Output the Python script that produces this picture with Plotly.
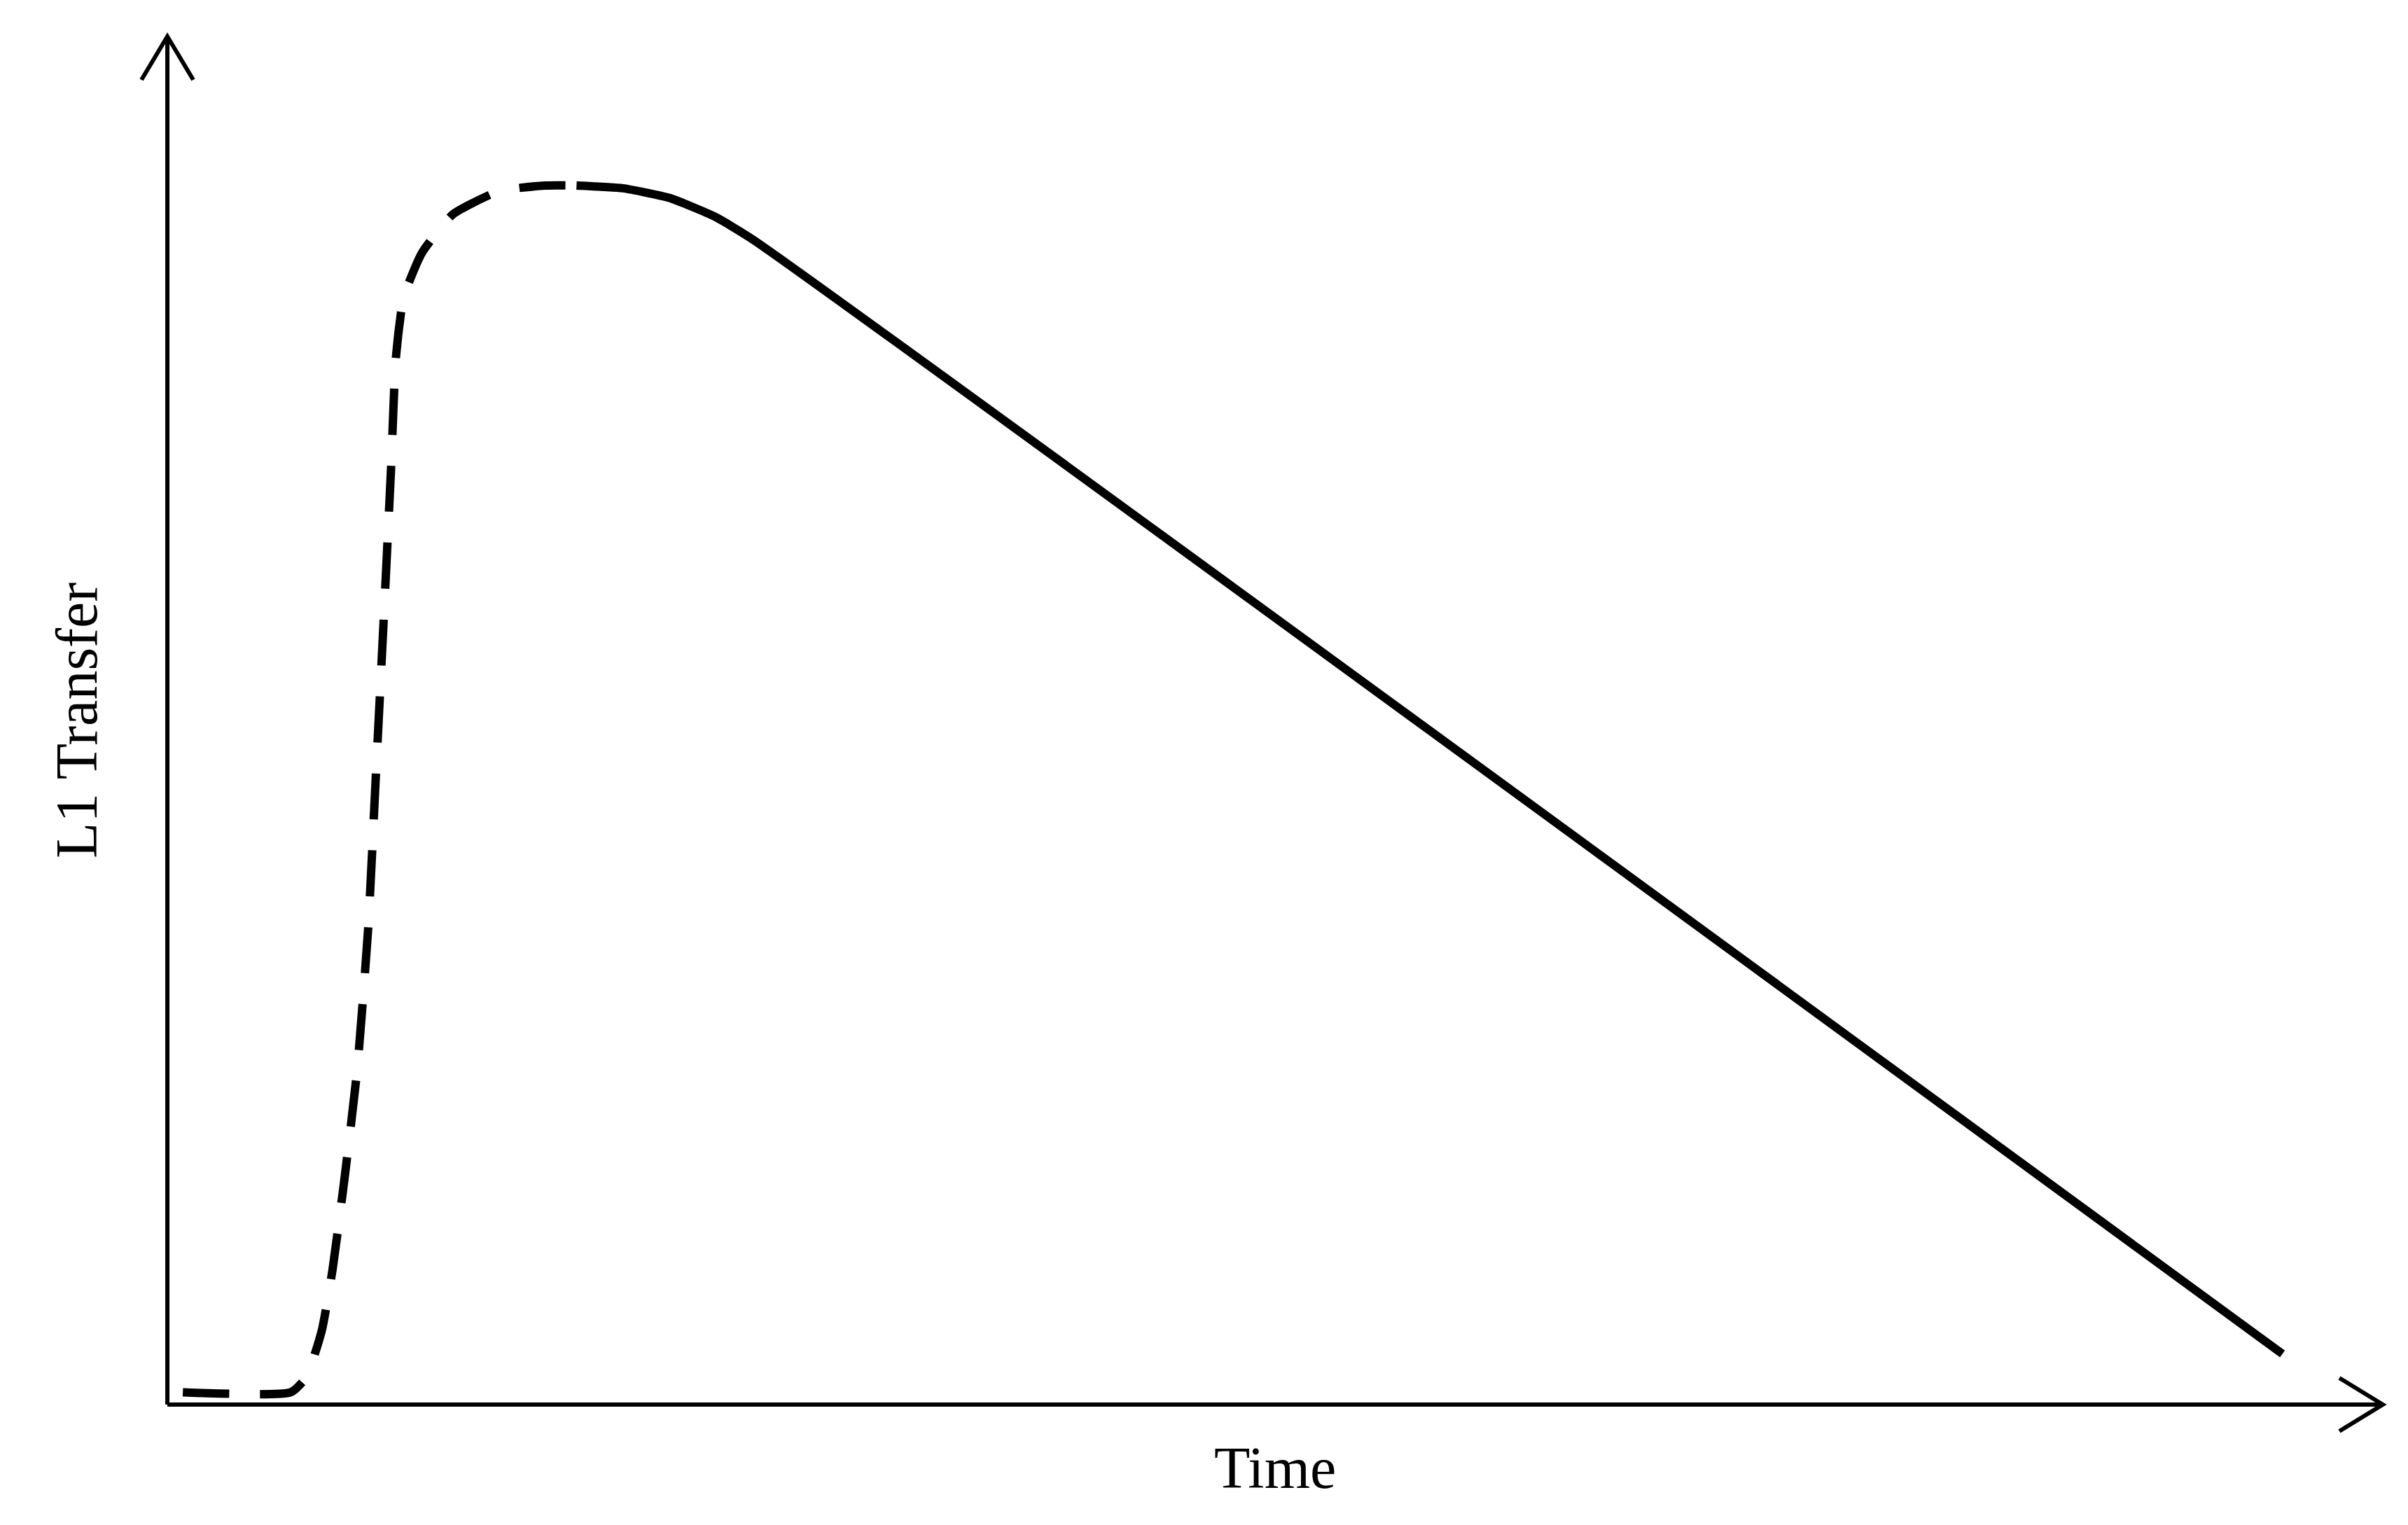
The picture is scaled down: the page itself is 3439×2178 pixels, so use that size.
import plotly.graph_objects as go

# rise phase (dashed) in axis units (0-100)
rise_x = [0.70, 5.57, 6.27, 6.97, 7.46, 8.01, 8.57, 9.06, 9.41, 9.76, 10.10, 10.31, 10.66, 11.50, 12.89, 14.98, 17.07, 18.47]
rise_y = [0.9, 0.9, 2.0, 5.4, 9.9, 16.7, 24.5, 34.7, 45.9, 57.2, 68.5, 76.4, 80.9, 84.2, 87.0, 88.7, 89.1, 89.1]

# decay phase (solid)
decay_x = [18.47, 20.56, 22.65, 24.74, 26.48, 95.47]
decay_y = [89.1, 88.9, 88.2, 86.8, 85.1, 3.7]

x_label = "Time"
y_label = "L1 Transfer"

fig = go.Figure()
fig.add_trace(go.Scatter(x=rise_x, y=rise_y, mode="lines", line_shape="spline",
                         line=dict(color="black", width=12, dash="66px,44px", smoothing=0.5)))
fig.add_trace(go.Scatter(x=decay_x, y=decay_y, mode="lines", line_shape="spline",
                         line=dict(color="black", width=12, smoothing=0.5)))

axis_style = dict(range=[0, 100], showgrid=False, zeroline=False, showticklabels=False,
                  ticks="", showline=False, fixedrange=True)
fig.update_xaxes(**axis_style)
fig.update_yaxes(**axis_style)

line = dict(color="black", width=6)
fig.add_shape(type="line", x0=0, y0=0, x1=1, y1=0, xref="paper", yref="paper", line=line)
fig.add_shape(type="line", x0=0, y0=0, x1=0, y1=1, xref="paper", yref="paper", line=line)
# open arrow heads
fig.add_shape(type="path", xsizemode="pixel", ysizemode="pixel", xanchor=0, yanchor=1,
              xref="paper", yref="paper", path="M-37,-62 L0,0 L37,-62", line=line)
fig.add_shape(type="path", xsizemode="pixel", ysizemode="pixel", xanchor=1, yanchor=0,
              xref="paper", yref="paper", path="M-62,38 L0,0 L-62,-38", line=line)

font = dict(family="Liberation Serif", size=84, color="black")
fig.add_annotation(text=x_label, x=50, y=0, xref="x", yref="y", yshift=-90,
                   showarrow=False, font=font)
fig.add_annotation(text=y_label, x=0, y=50, xref="x", yref="y", xshift=-130, textangle=-90,
                   showarrow=False, font=font)

fig.update_layout(width=3439, height=2178, showlegend=False,
                  paper_bgcolor="white", plot_bgcolor="white",
                  margin=dict(l=231, r=44, t=44, b=180))
fig.write_html("out.html")
